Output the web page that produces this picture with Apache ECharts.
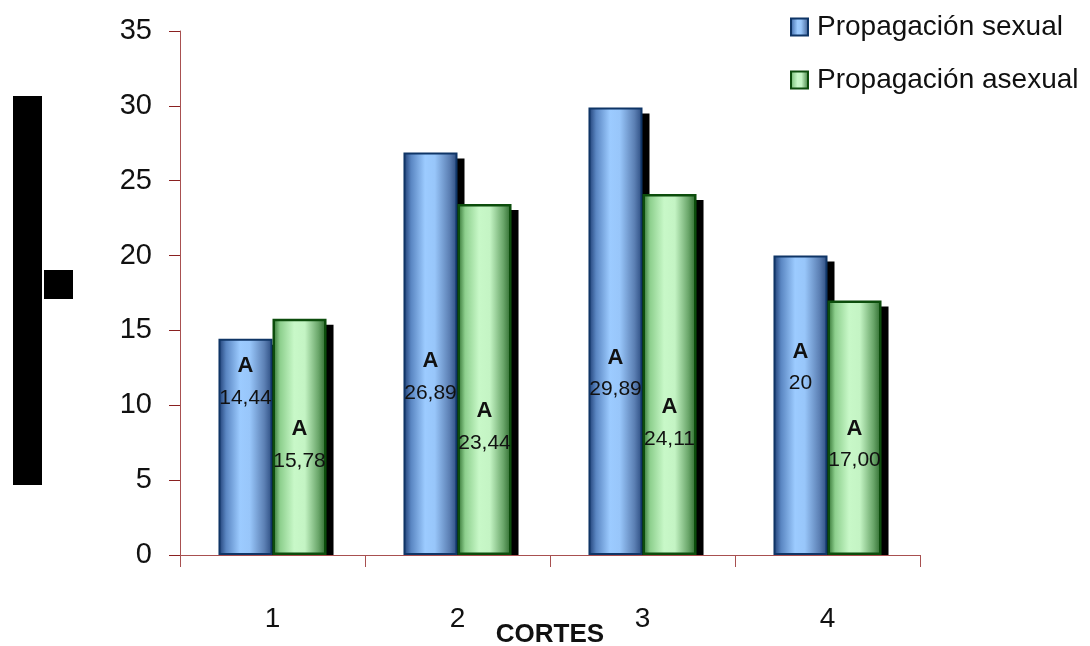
<!DOCTYPE html>
<html>
<head>
<meta charset="utf-8">
<script src="https://cdn.jsdelivr.net/npm/echarts@6/dist/echarts.min.js"></script>
<style>
  html, body { margin: 0; padding: 0; background: #fff; }
  #chart { width: 1090px; height: 646px; }
</style>
</head>
<body>
<div id="chart"></div>
<script>
// Cortes and the two propagation methods
const categories = ['1', '2', '3', '4'];
const seriesNames = ['Propagación sexual', 'Propagación asexual'];
const sexual = [14.44, 26.89, 29.89, 20];
const asexual = [15.78, 23.44, 24.11, 17.00];
const sexualText = ['14,44', '26,89', '29,89', '20'];
const asexualText = ['15,78', '23,44', '24,11', '17,00'];
const groupLetter = ['A', 'A', 'A', 'A'];
const yTicks = [0, 5, 10, 15, 20, 25, 30, 35];

const FONT = 'Liberation Sans';
const BAR_FRAC = 0.292;

// how far below each bar's top the letter/value pair sits (px)
const sexualDrop = [11, 193, 234, 80];
const asexualDrop = [94, 191, 197, 112];

function grad(stops) {
  return new echarts.graphic.LinearGradient(0, 0, 1, 0,
    stops.map(s => ({ offset: s[0], color: s[1] })));
}
const blueFill = grad([[0, '#1c3b70'], [0.14, '#5a86c2'], [0.4, '#9ccbff'], [0.58, '#98c6fa'], [0.85, '#5c80b4'], [1, '#2a4a7e']]);
const greenFill = grad([[0, '#2a6a2a'], [0.14, '#8dcf8d'], [0.4, '#c8f8c8'], [0.6, '#c4f4c4'], [0.85, '#6aa66a'], [1, '#2a662a']]);

const labelRich = {
  a: { fontFamily: FONT, fontWeight: 'bold', fontSize: 22, color: '#111', lineHeight: 32, align: 'center' },
  v: { fontFamily: FONT, fontSize: 21, color: '#111', lineHeight: 32, align: 'center' }
};

function barData(values, texts, drops) {
  return values.map((v, i) => ({
    value: v,
    label: {
      show: true,
      position: ['50%', drops[i]],
      align: 'center',
      verticalAlign: 'top',
      formatter: '{a|' + groupLetter[i] + '}\n{v|' + texts[i] + '}',
      rich: labelRich
    }
  }));
}

// drop-shadow blocks behind each bar
const shadowData = [];
sexual.forEach((v, i) => shadowData.push([i, v, 0]));
asexual.forEach((v, i) => shadowData.push([i, v, 1]));

const chart = echarts.init(document.getElementById('chart'), null, { renderer: 'canvas' });

chart.setOption({
  animation: false,
  backgroundColor: '#ffffff',
  textStyle: { fontFamily: FONT },
  grid: { left: 180, right: 170, top: 31, bottom: 91, containLabel: false, outerBoundsMode: 'none' },
  legend: {
    data: seriesNames,
    orient: 'vertical',
    left: 785,
    top: 8,
    itemWidth: 17,
    itemHeight: 17,
    itemGap: 25,
    icon: 'rect',
    textStyle: { fontFamily: FONT, fontSize: 28, color: '#111', padding: [0, 0, 0, 4] }
  },
  xAxis: {
    type: 'category',
    data: categories,
    name: 'CORTES',
    nameLocation: 'middle',
    nameGap: 67,
    nameMoveOverlap: false,
    nameTextStyle: { fontFamily: FONT, fontWeight: 'bold', fontSize: 26, color: '#111' },
    axisLine: { lineStyle: { color: '#a85050', width: 1 } },
    axisTick: { show: true, length: 12, lineStyle: { color: '#a85050' } },
    axisLabel: { margin: 50, fontFamily: FONT, fontSize: 28, color: '#111' },
    splitLine: { show: false }
  },
  yAxis: {
    type: 'value',
    min: 0,
    max: 35,
    interval: 5,
    axisLine: { show: true, lineStyle: { color: '#a85050', width: 1 } },
    axisTick: { show: true, length: 11, lineStyle: { color: '#8a2020' } },
    axisLabel: {
      margin: 28, fontFamily: FONT, fontSize: 29, color: '#111',
      formatter: v => (yTicks.indexOf(v) >= 0 ? String(v) : '')
    },
    splitLine: { show: false }
  },
  graphic: [
    { type: 'rect', left: 13, top: 96, shape: { width: 29, height: 389 }, style: { fill: '#000' } },
    { type: 'rect', left: 44, top: 270, shape: { width: 29, height: 29 }, style: { fill: '#000' } }
  ],
  series: [
    {
      type: 'custom',
      name: 'sombra',
      z: 1,
      silent: true,
      encode: { x: 0, y: 1 },
      data: shadowData,
      renderItem: function (params, api) {
        const idx = api.value(0);
        const v = api.value(1);
        const s = api.value(2);
        const top = api.coord([idx, v]);
        const base = api.coord([idx, 0]);
        const w = api.size([1, 0])[0] * BAR_FRAC;
        const x0 = top[0] + (s === 0 ? -w : 0);
        return {
          type: 'rect',
          shape: { x: x0 + 7, y: top[1] + 6, width: w, height: base[1] - top[1] - 6 },
          style: { fill: '#000' }
        };
      }
    },
    {
      type: 'bar',
      name: seriesNames[0],
      z: 2,
      barWidth: (BAR_FRAC * 100) + '%',
      barGap: '0%',
      itemStyle: { color: blueFill, borderColor: '#0f3566', borderWidth: 2 },
      data: barData(sexual, sexualText, sexualDrop)
    },
    {
      type: 'bar',
      name: seriesNames[1],
      z: 2,
      barWidth: (BAR_FRAC * 100) + '%',
      barGap: '0%',
      itemStyle: { color: greenFill, borderColor: '#0c4d0c', borderWidth: 2.5 },
      data: barData(asexual, asexualText, asexualDrop)
    }
  ]
});
</script>
</body>
</html>
